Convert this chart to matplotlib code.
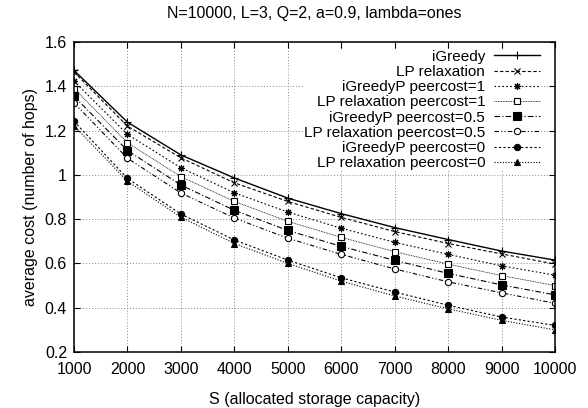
import matplotlib.pyplot as plt

plt.rcParams['font.family'] = ['Liberation Sans', 'DejaVu Sans']

# storage capacity values on the x axis
S = [1000, 2000, 3000, 4000, 5000, 6000, 7000, 8000, 9000, 10000]

# average cost for each method
igreedy = [1.472, 1.238, 1.090, 0.986, 0.895, 0.825, 0.762, 0.708, 0.656, 0.615]
lp = [1.465, 1.220, 1.077, 0.964, 0.880, 0.808, 0.744, 0.690, 0.643, 0.597]
igp_1 = [1.423, 1.183, 1.032, 0.919, 0.832, 0.759, 0.695, 0.641, 0.589, 0.547]
lp_1 = [1.390, 1.145, 0.992, 0.880, 0.790, 0.718, 0.653, 0.597, 0.545, 0.500]
igp_05 = [1.355, 1.110, 0.954, 0.840, 0.749, 0.677, 0.614, 0.555, 0.503, 0.458]
lp_05 = [1.325, 1.075, 0.918, 0.805, 0.714, 0.641, 0.575, 0.517, 0.467, 0.420]
igp_0 = [1.242, 0.984, 0.823, 0.706, 0.615, 0.535, 0.471, 0.411, 0.358, 0.320]
lp_0 = [1.222, 0.971, 0.809, 0.690, 0.600, 0.520, 0.453, 0.395, 0.343, 0.300]

labels = ["iGreedy", "LP relaxation", "iGreedyP peercost=1", "LP relaxation peercost=1",
          "iGreedyP peercost=0.5", "LP relaxation peercost=0.5",
          "iGreedyP peercost=0", "LP relaxation peercost=0"]


def main():
    fig = plt.figure(figsize=(5.88, 4.08), dpi=100)
    ax = fig.add_axes([74 / 588, 1 - 352 / 408, (555 - 74) / 588, (352 - 42) / 408])

    series = [igreedy, lp, igp_1, lp_1, igp_05, lp_05, igp_0, lp_0]
    styles = [
        dict(ls='-', marker='+', ms=5.5, mfc='black', lw=1.0),
        dict(ls=(0, (3, 2)), marker='x', ms=4.5, mfc='black', lw=0.8),
        dict(ls=(0, (1.5, 2)), marker=(8, 2, 0), ms=5, mfc='black', lw=0.8),
        dict(ls=(0, (1, 1)), marker='s', ms=4.5, mfc='white', lw=0.6),
        dict(ls=(0, (5, 2, 1, 2)), marker='s', ms=5.5, mfc='black', lw=0.8),
        dict(ls=(0, (4, 2, 1, 2, 1, 2)), marker='o', ms=4.5, mfc='white', lw=0.8),
        dict(ls=(0, (2, 2)), marker='o', ms=4.5, mfc='black', lw=0.8),
        dict(ls=(0, (1, 1.5)), marker='^', ms=4.5, mfc='black', lw=0.8),
    ]
    for y, st, lab in zip(series, styles, labels):
        ax.plot(S, y, color='black', mec='black', mew=0.8, label=lab, **st)

    ax.set_xlim(1000, 10000)
    ax.set_ylim(0.2, 1.6)
    ax.set_xticks(S)
    ax.set_yticks([0.2, 0.4, 0.6, 0.8, 1.0, 1.2, 1.4, 1.6])
    ax.set_yticklabels(['0.2', '0.4', '0.6', '0.8', '1', '1.2', '1.4', '1.6'])
    ax.tick_params(direction='in', top=True, right=True, labelsize=11.5, length=4, width=0.8)
    ax.tick_params(axis='x', pad=7)
    ax.tick_params(axis='y', pad=5)
    ax.grid(True, ls=(0, (1, 2)), color='#888888', lw=0.7)
    for sp in ax.spines.values():
        sp.set_linewidth(1.1)

    ax.set_xlabel("S (allocated storage capacity)", fontsize=11.5, labelpad=11)
    ax.set_ylabel("average cost (number of hops)", fontsize=11.5, labelpad=5)
    ax.set_title("N=10000, L=3, Q=2, a=0.9, lambda=ones", fontsize=11.5, pad=17)

    leg = ax.legend(loc='upper right', bbox_to_anchor=(0.985, 1.0), markerfirst=False,
                    fontsize=11, frameon=True, fancybox=False, facecolor='white',
                    edgecolor='none', framealpha=1, handlelength=3.0, handletextpad=0.6,
                    labelspacing=0.08, borderpad=0.0)
    for t in leg.get_texts():
        t.set_ha('right')
    leg._legend_box.align = 'right'

    fig.savefig("out.png", dpi=100)


if __name__ == "__main__":
    main()
